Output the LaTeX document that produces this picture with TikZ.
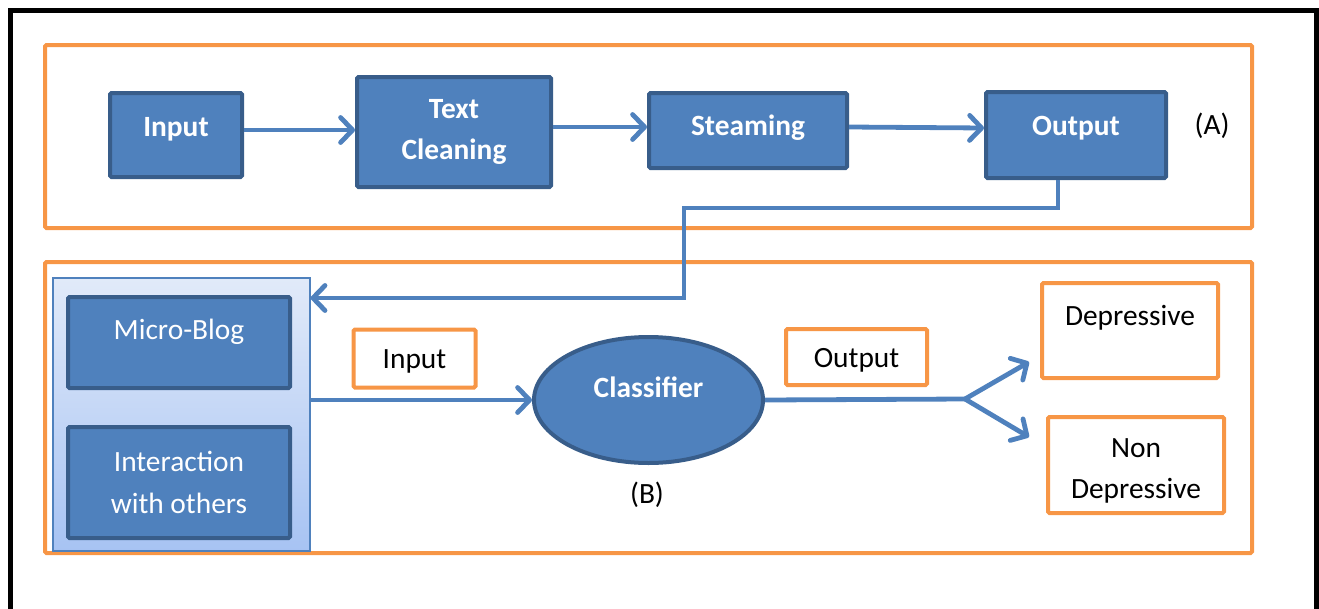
\documentclass[tikz,border=0pt]{standalone}
\usepackage{fontspec}
\setmainfont{Carlito}
\usetikzlibrary{arrows.meta,shapes.geometric,calc}

\definecolor{boxblue}{HTML}{4F81BD}
\definecolor{boxedge}{HTML}{385D8A}
\definecolor{frameorange}{HTML}{F79646}
\definecolor{paneltop}{HTML}{E1EAF9}
\definecolor{panelbottom}{HTML}{A7C3F3}

\newcommand{\bodyfont}{\fontsize{29.4}{41.5}\selectfont}

\tikzset{
  base/.style={font=\bodyfont, inner sep=0pt, align=center},
  bluebox/.style={base, draw=boxedge, fill=boxblue, line width=4pt, text=white,
                  rounded corners=1.5pt},
  boldbox/.style={bluebox, font=\bodyfont\bfseries},
  tagbox/.style={base, draw=frameorange, line width=4pt, fill=white, text=black,
                 rounded corners=1.5pt},
  group/.style={draw=frameorange, line width=4pt, rounded corners=1.5pt},
  flow/.style={draw=boxblue, line width=4.8pt,
               -{Straight Barb[length=12pt,width=25pt,line cap=round,line join=round]}},
  plainflow/.style={draw=boxblue, line width=4.8pt},
}

\begin{document}
\begin{tikzpicture}[x=1pt,y=-1pt]
\useasboundingbox (0,0) rectangle (1319,608);

% outer page frame (open at the bottom)
\draw[line width=5pt] (10,620) -- (10,10) -- (1316,10) -- (1316,620);

% the two stage groups
\draw[group] (45,45) rectangle (1252,228);
\draw[group] (45,262) rectangle (1252,553);

% ---- stage (A): preprocessing chain ----
\node[boldbox, minimum width=132, minimum height=84,
      text height=20pt, text depth=18pt] (in) at (176,135) {Input};
\node[boldbox, minimum width=194, minimum height=110] (tc) at (454,132) {Text\\Cleaning};
\node[boldbox, minimum width=198, minimum height=75,
      text height=20pt, text depth=11pt] (st) at (748,130.5) {Steaming};
\node[boldbox, minimum width=180, minimum height=86,
      text height=20pt, text depth=20pt] (out) at (1076,135) {Output};
\node[base] (labA) at (1212,126) {(A)};

\draw[flow] ([yshift=5pt]in.east) -- ([yshift=5pt]in.east -| tc.west);
\draw[flow] ([yshift=5pt]tc.east) -- ([yshift=5pt]tc.east -| st.west);
\draw[flow] ([yshift=3.5pt]st.east) -- ([yshift=7pt]out.west);

% ---- stage (B): classification ----
\node[draw=boxblue, line width=1.2pt, top color=paneltop, bottom color=panelbottom,
      minimum width=257, minimum height=273, inner sep=0pt] (src) at (181.5,414.5) {};
\node[bluebox, minimum width=222, minimum height=91,
      text height=20pt, text depth=27pt] (mb) at (179,342.5) {Micro-Blog};
\node[bluebox, minimum width=222, minimum height=111] (iw) at (179,482.5) {Interaction\\with others};

\node[tagbox, minimum width=122, minimum height=58,
      text height=20pt, text depth=0pt] (tin) at (414.5,358.5) {Input};
\node[ellipse, draw=boxedge, fill=boxblue, line width=4pt, text=white,
      font=\bodyfont\bfseries, inner sep=0pt,
      minimum width=229, minimum height=126, text height=20pt, text depth=26pt] (cls) at (648.5,400) {Classifier};
\node[base] (labB) at (647,495) {(B)};
\node[tagbox, minimum width=141, minimum height=56,
      text height=20pt, text depth=0pt] (tout) at (856.5,357) {Output};

\node[tagbox, minimum width=176, minimum height=95,
      text height=20pt, text depth=31pt] (dep) at (1130,330.5) {Depressive};
\node[tagbox, minimum width=176, minimum height=96] (ndep) at (1136,465) {};
\node[base] (ndeptext) at (1136,471) {Non\\Depressive};

% result of stage (A) fed back into the data source panel
\coordinate (c1) at (684,208);
\coordinate (c2) at (684,298);
\draw[flow] ([xshift=-18pt]out.south) |- (c1) -- (c2) -- (src.east |- c2);

\draw[flow] (src.east |- cls.west) -- (cls.west);

% classifier output splits into the two classes
\coordinate (br) at (965,399);
\coordinate (tipU) at (1029,362);
\coordinate (tipD) at (1029,437);
\draw[plainflow] (cls.east) -- (br);
\draw[flow] (br) -- (tipU);
\draw[flow] (br) -- (tipD);
\end{tikzpicture}
\end{document}
